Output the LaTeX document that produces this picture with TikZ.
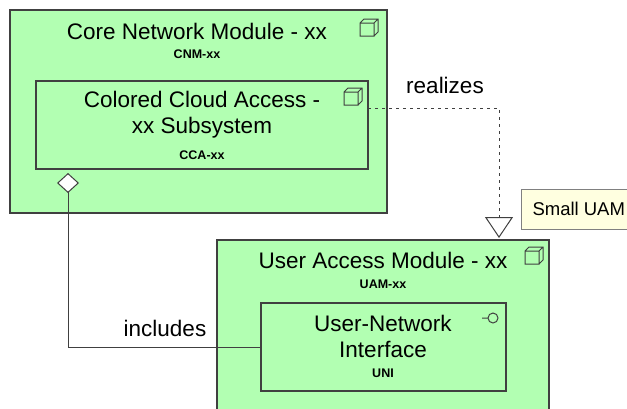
\documentclass[tikz,border=0pt]{standalone}
\usepackage{fontspec}
\setmainfont{Liberation Sans}
\usetikzlibrary{arrows.meta}
\definecolor{modgreen}{RGB}{178,255,178}
\definecolor{notecream}{RGB}{255,255,224}
\definecolor{edgegray}{RGB}{64,64,64}
\newcommand{\cubeicon}[1]{\draw[icon] (#1) rectangle ++(14,13) (#1) -- ++(4,-4) -- ++(14,0) -- ++(0,13) -- ++(-4,4) ++(0,-13) -- ++(4,-4);}
\tikzset{
  modbox/.style={draw=edgegray, line width=1.2pt, fill=modgreen, inner sep=0pt},
  notebox/.style={draw=gray, line width=1pt, fill=notecream, inner xsep=11pt, inner ysep=0pt, minimum height=40pt, anchor=west, font=\fontsize{18.5}{22}\selectfont},
  bigtext/.style={font=\fontsize{22.5}{26}\selectfont, align=center, inner sep=0pt},
  codetext/.style={font=\fontsize{12.5}{15}\selectfont\bfseries, inner sep=0pt},
  icon/.style={draw=edgegray, line width=1pt},
  conn/.style={draw=edgegray, line width=1pt},
}

\begin{document}
\begin{tikzpicture}[x=1pt, y=-1pt]
      \useasboundingbox (0,0) rectangle (627,408);
      % core network module
      \node[modbox, minimum width=377pt, minimum height=203pt] (cnm) at (198.5,111.5) {};
      \node[bigtext] (cnmtitle) at (197,31) {Core Network Module - xx};
      \node[codetext] (cnmcode) at (197,54) {CNM-xx};
      \cubeicon{360,23}
      \node[modbox, minimum width=332pt, minimum height=88pt] (cca) at (202,125) {};
      \node[bigtext] (ccatitle) at (202,115) {Colored Cloud Access -\\xx Subsystem};
      \node[codetext] (ccacode) at (202,155) {CCA-xx};
      \cubeicon{344,92}
      % user access module
      \node[modbox, minimum width=332pt, minimum height=180pt] (uam) at (383,330) {};
      \node[bigtext] (uamtitle) at (383,260) {User Access Module - xx};
      \node[codetext] (uamcode) at (383,284) {UAM-xx};
      \cubeicon{525,251}
      \node[modbox, minimum width=245pt, minimum height=88pt] (uni) at (383.5,347) {};
      \node[bigtext] (unititle) at (383,336) {User-Network\\Interface};
      \node[codetext] (unicode) at (383,373) {UNI};
      \draw[icon] (482,318) -- (488,318) (493,318) circle (5);
      % note
      \node[notebox] (note) at (521,209) {Small UAM};
      % relations
      \coordinate (realstart) at (368,108);
      \coordinate (realtip) at (499,238);
      \coordinate (aggtip) at (68,173);
      \draw[conn, dash pattern=on 2.5pt off 4.5pt, -{Triangle[fill=white, length=21pt, width=28pt]}] (realstart) -| (realtip);
      \node[bigtext] (realizes) at (445,85) {realizes};
      \draw[conn, -{Diamond[fill=white, length=20pt, width=22pt]}] (uni.west) -| (aggtip);
      \node[bigtext] (includes) at (165,328) {includes};
   \end{tikzpicture}
\end{document}
